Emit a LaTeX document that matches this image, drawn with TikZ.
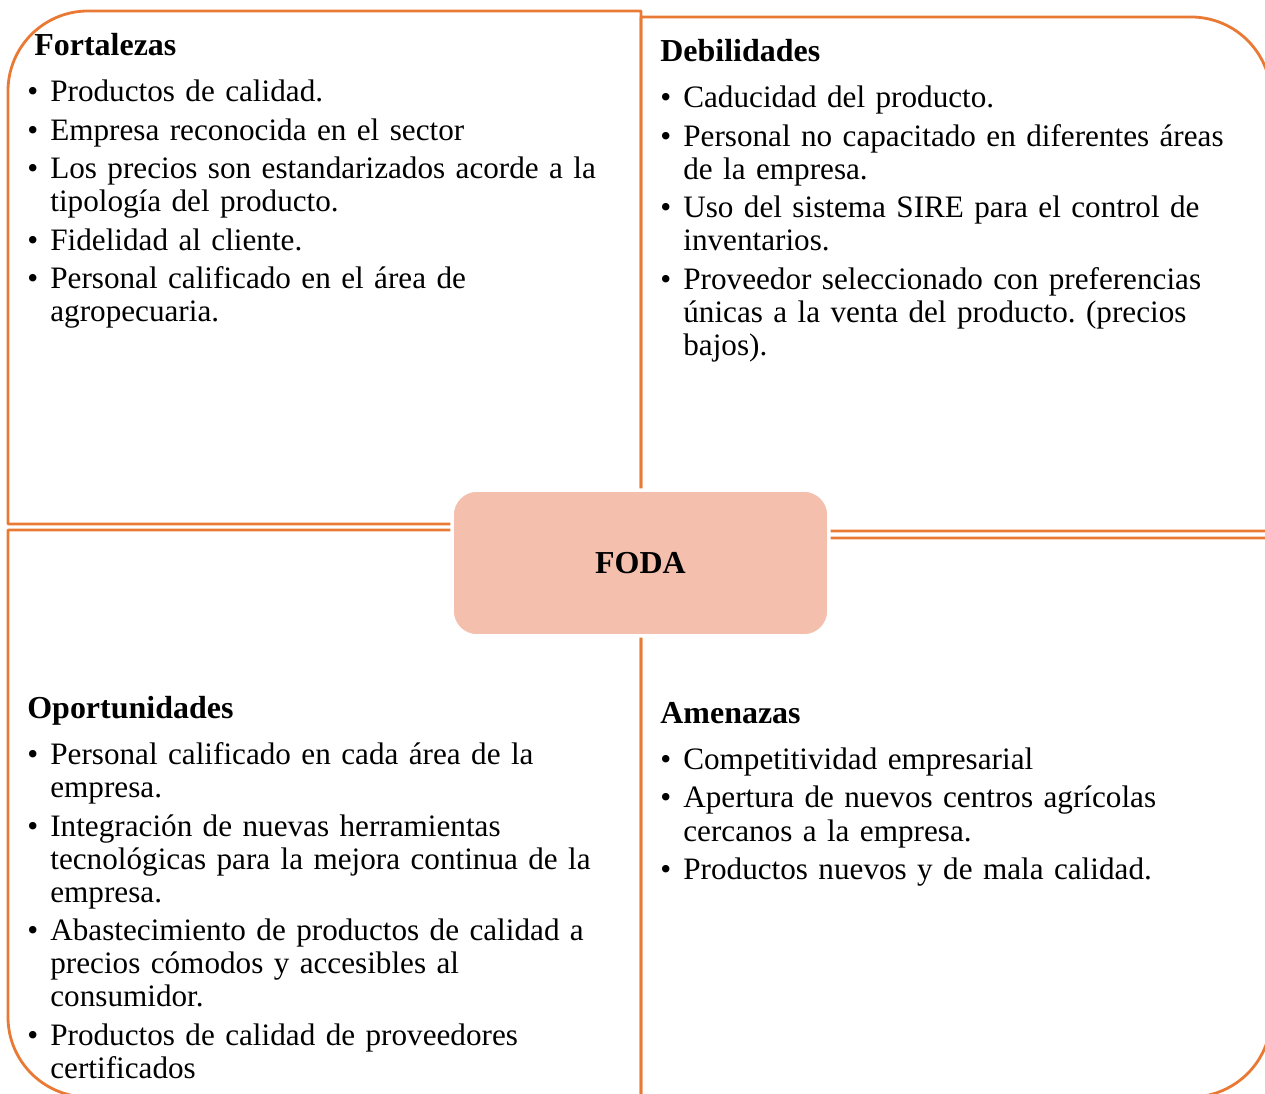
\documentclass[tikz,border=0pt]{standalone}
\usepackage{fontspec}
\setmainfont{Liberation Serif}
\frenchspacing
\definecolor{fodaline}{HTML}{E97A35}
\definecolor{fodafill}{HTML}{F4BFAC}
\newcommand{\quadfont}{\fontsize{17.75}{18.8}\selectfont\lineskiplimit=-20pt}
\newcommand{\fodatitle}[1]{\noindent{\fontsize{18.2}{18.8}\selectfont\textbf{#1}}\par\vspace{4.3pt}}
\newcommand{\fodaitem}[1]{\par\vspace{3.1pt}\hangindent=0.46cm\hangafter=1\noindent\makebox[0.46cm][l]{\textbullet}#1\par}
\tikzset{
    quad/.style={draw=fodaline, line width=1.6pt, line join=round},
    quadtext/.style={anchor=north west, inner sep=0pt, text width=12cm, align=left, font=\quadfont},
    fodabox/.style={fill=fodafill, draw=white, line width=2pt, rounded corners=0.5cm, minimum width=7.54cm, minimum height=2.92cm, font=\fontsize{18.2}{18.8}\selectfont\bfseries}
}

\begin{document}
\begin{tikzpicture}[x=0.02cm, y=-0.02cm]
    \useasboundingbox (0,0) rectangle (1265,1094);
    \clip (0,0) rectangle (1265,1094);
    \draw[quad] (641,524) -- (8,524) -- (8,91) arc[start angle=180, end angle=270, radius=80] -- (641,11) -- cycle;
    \draw[quad] (641,531) -- (641,17) -- (1191,17) arc[start angle=270, end angle=360, radius=80] -- (1271,531) -- cycle;
    \draw[quad] (641,530) -- (8,530) -- (8,1017) arc[start angle=180, end angle=90, radius=80] -- (641,1097) -- cycle;
    \draw[quad] (641,538) -- (1271,538) -- (1271,1017) arc[start angle=0, end angle=90, radius=80] -- (641,1097) -- cycle;
    \node[fodabox] (foda) at (640.5,563) {FODA};
    \node[quadtext] (fortalezas) at (27,33) {\fodatitle{\hspace*{0.14cm}Fortalezas}
        \fodaitem{Productos de calidad.}
        \fodaitem{Empresa reconocida en el sector}
        \fodaitem{Los precios son estandarizados acorde a la\newline tipología del producto.}
        \fodaitem{Fidelidad al cliente.}
        \fodaitem{Personal calificado en el área de\newline agropecuaria.}};
    \node[quadtext] (debilidades) at (660,39) {\fodatitle{Debilidades}
        \fodaitem{Caducidad del producto.}
        \fodaitem{Personal no capacitado en diferentes áreas\newline de la empresa.}
        \fodaitem{Uso del sistema SIRE para el control de\newline inventarios.}
        \fodaitem{Proveedor seleccionado con preferencias\newline únicas a la venta del producto. (precios\newline bajos).}};
    \node[quadtext] (oportunidades) at (27,696) {\fodatitle{Oportunidades}
        \fodaitem{Personal calificado en cada área de la\newline empresa.}
        \fodaitem{Integración de nuevas herramientas\newline tecnológicas para la mejora continua de la\newline empresa.}
        \fodaitem{Abastecimiento de productos de calidad a\newline precios cómodos y accesibles al\newline consumidor.}
        \fodaitem{Productos de calidad de proveedores\newline certificados}};
    \node[quadtext] (amenazas) at (660,702) {\fodatitle{Amenazas}
        \fodaitem{Competitividad empresarial}
        \fodaitem{Apertura de nuevos centros agrícolas\newline cercanos a la empresa.}
        \fodaitem{Productos nuevos y de mala calidad.}};
\end{tikzpicture}
\end{document}
